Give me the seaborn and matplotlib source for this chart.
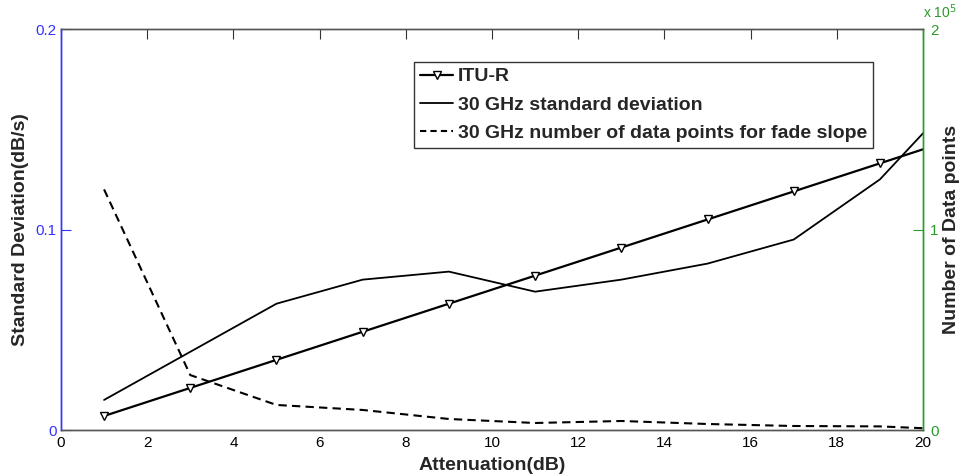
import numpy as np
import pandas as pd
import seaborn as sns
import matplotlib.pyplot as plt
from matplotlib.lines import Line2D

# attenuation (dB) -- last point lies past the axis and is clipped, like the original
atten = [1, 3, 5, 7, 9, 11, 13, 15, 17, 19, 21]
itu_r = [0.007, 0.021, 0.035, 0.049, 0.063, 0.077, 0.091, 0.105, 0.119, 0.133, 0.147]
std_30ghz = [0.015, 0.039, 0.063, 0.075, 0.079, 0.069, 0.075, 0.083, 0.095, 0.125, 0.171]
n_points_30ghz = [120000, 27400, 12500, 10000, 5500, 3500, 4500, 3000, 2000, 1800, 0]

x_ticks = list(range(0, 21, 2))
left_ticks = [0, 0.1, 0.2]
right_ticks = [0, 100000, 200000]
right_labels = ['0', '1', '2']

df = pd.DataFrame({'atten': atten, 'itu': itu_r, 'std': std_30ghz, 'n': n_points_30ghz})

sns.set_style('white')
plt.rcParams['font.family'] = ['Liberation Sans', 'DejaVu Sans']
plt.rcParams['xtick.direction'] = 'in'
plt.rcParams['ytick.direction'] = 'in'

blue = '#3333ff'
green = '#2a9a2a'

fig = plt.figure(figsize=(9.6, 4.74), dpi=100)
ax = fig.add_axes([0.0635, 0.0928, 0.898, 0.846])

sns.lineplot(data=df, x='atten', y='itu', ax=ax, color='black', linewidth=1.6,
             marker='v', markersize=6, markerfacecolor='white', markeredgecolor='black',
             markeredgewidth=1.0)
sns.lineplot(data=df, x='atten', y='std', ax=ax, color='black', linewidth=1.3)

ax2 = ax.twinx()
sns.lineplot(data=df, x='atten', y='n', ax=ax2, color='black', linewidth=1.5,
             linestyle=(0, (4, 2.5)))

ax.set_xlim(0, 20)
ax.set_ylim(0, 0.2)
ax2.set_ylim(0, 200000)

ax.set_xticks(x_ticks)
ax.set_yticks(left_ticks)
ax.set_yticklabels(['0', '0.1', '0.2'])
ax2.set_yticks(right_ticks)
ax2.set_yticklabels(right_labels)

ax.tick_params(axis='x', top=True, length=7, width=0.8, colors='#333333',
               labelcolor='black', labelsize=11, pad=4)
ax.tick_params(axis='y', length=7, width=0.8, colors=blue, labelsize=11, pad=3)
ax2.tick_params(axis='y', length=7, width=0.8, colors=green, labelsize=11, pad=5)

for a in (ax, ax2):
    a.spines['top'].set_color('#555555')
    a.spines['bottom'].set_color('#555555')
    a.spines['left'].set_color(blue)
    a.spines['right'].set_color(green)
    for s in a.spines.values():
        s.set_linewidth(1.0)

ax.set_xlabel('Attenuation(dB)', fontsize=14, fontweight='bold', labelpad=5)
ax.set_ylabel('Standard Deviation(dB/s)', fontsize=14, fontweight='bold', labelpad=5)
ax2.set_ylabel('Number of Data points', fontsize=14, fontweight='bold', labelpad=3)
ax2.text(1.0, 1.02, r'x 10$^5$', transform=ax2.transAxes, color=green,
         fontsize=10, ha='left', va='bottom')

handles = [
    Line2D([], [], color='black', linewidth=1.6, marker='v', markersize=6,
           markerfacecolor='white', markeredgecolor='black'),
    Line2D([], [], color='black', linewidth=1.3),
    Line2D([], [], color='black', linewidth=1.5, linestyle=(0, (3, 2))),
]
labels = ['ITU-R', '30 GHz standard deviation', '30 GHz number of data points for fade slope']
leg = ax2.legend(handles, labels, loc='upper left', bbox_to_anchor=(0.41, 0.918),
                 frameon=True, fancybox=False, edgecolor='#333333', framealpha=1,
                 prop={'weight': 'bold', 'size': 14}, handlelength=1.7,
                 handletextpad=0.25, borderpad=0.3, labelspacing=0.55, borderaxespad=0)
leg.get_frame().set_linewidth(1.0)

plt.savefig('out.png', dpi=100)
